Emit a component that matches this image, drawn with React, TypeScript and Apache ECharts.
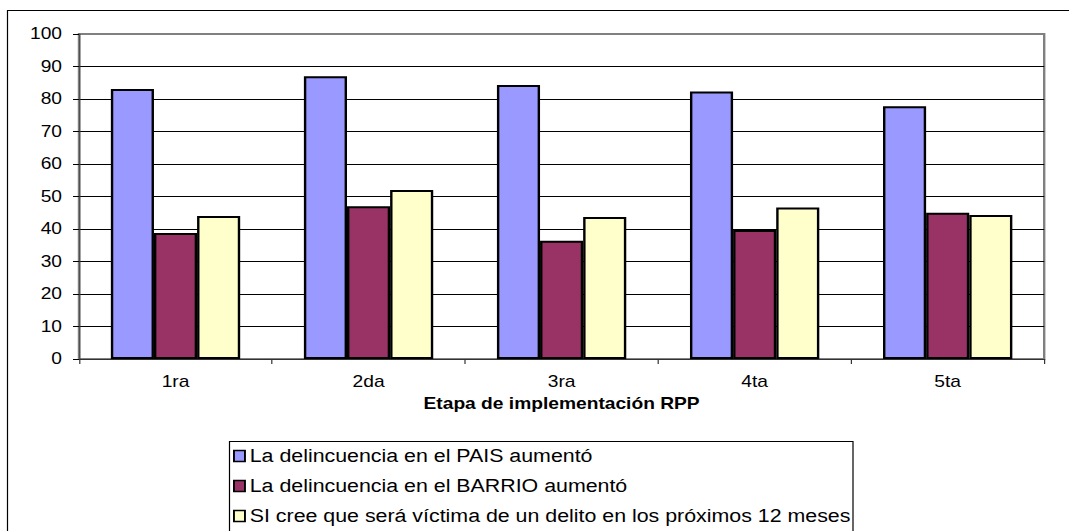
import React, { useEffect, useRef } from "react";
import * as echarts from "echarts";

const categories = ["1ra", "2da", "3ra", "4ta", "5ta"];
const seriesNames = [
  "La delincuencia en el PAIS aumentó",
  "La delincuencia en el BARRIO aumentó",
  "SI cree que será víctima de un delito en los próximos 12 meses",
];
const paisValues = [83.1, 87.0, 84.3, 82.3, 77.8];
const barrioValues = [38.8, 47.0, 36.4, 39.7, 45.0];
const victimaValues = [44.0, 52.0, 43.7, 46.6, 44.3];
const colors = ["#9999FF", "#993366", "#FFFFCC"];
const xAxisTitle = "Etapa de implementación RPP";

const FONT = "'Liberation Sans', Arial, sans-serif";
// The reference picture is stretched horizontally; render narrower and stretch.
const SX = 1.2;
const W = 1069 / SX;
const H = 531;
const px = (x: number) => x / SX;

export default function App() {
  const ref = useRef<HTMLDivElement>(null);
  useEffect(() => {
    if (!ref.current) return;
    const chart = echarts.init(ref.current, undefined, { renderer: "svg" });
    const values = [paisValues, barrioValues, victimaValues];
    const gridColors = ["#000", "#000", "#000", "#000", "#000", "#000", "#000", "#000", "#000", "#000", "#808080"];
    chart.setOption({
      animation: false,
      backgroundColor: "#fff",
      textStyle: { fontFamily: FONT },
      graphic: [
        {
          type: "rect",
          shape: { x: px(7.5), y: 10.5, width: 1200, height: 700 },
          style: { fill: "none", stroke: "#000", lineWidth: 1 },
          silent: true,
          z: -10,
        },
        {
          type: "rect",
          shape: { x: px(229.5), y: 441.5, width: px(853) - px(229.5), height: 200 },
          style: { fill: "#fff", stroke: "#000", lineWidth: 1 },
          silent: true,
          z: -5,
        },
      ],
      grid: {
        left: px(79),
        right: px(25),
        top: 34,
        bottom: 172,
        show: true,
        borderColor: "#808080",
        borderWidth: 2,
        containLabel: false,
      },
      legend: {
        orient: "vertical",
        left: px(233),
        top: 441,
        height: 200,
        padding: 0,
        itemGap: 0,
        itemWidth: px(11),
        itemHeight: 11,
        icon: "rect",
        textStyle: { fontFamily: FONT, fontSize: 17.8, color: "#000", lineHeight: 30, padding: [0, 0, 0, -1] },
        data: seriesNames.map((n, i) => ({
          name: n,
          itemStyle: { color: colors[i], borderColor: "#000", borderWidth: 1.6 },
        })),
      },
      xAxis: {
        type: "category",
        data: categories,
        axisLine: { show: true, lineStyle: { color: "#333", width: 1 } },
        axisTick: { show: true, length: 5, lineStyle: { color: "#333" } },
        axisLabel: { color: "#000", fontSize: 16, margin: 15, fontFamily: FONT },
        name: xAxisTitle,
        nameLocation: "middle",
        nameGap: 37,
        nameTextStyle: { color: "#000", fontSize: 16, fontWeight: "bold", fontFamily: FONT },
        splitLine: { show: false },
      },
      yAxis: {
        type: "value",
        min: 0,
        max: 100,
        interval: 10,
        axisLine: { show: true, lineStyle: { color: "#444", width: 1 } },
        axisTick: { show: true, length: px(6), lineStyle: { color: "#000" } },
        axisLabel: { color: "#000", fontSize: 16, margin: px(17), fontFamily: FONT },
        splitLine: { show: true, lineStyle: { color: gridColors, width: 1 } },
      },
      series: seriesNames.map((n, i) => ({
        name: n,
        type: "bar",
        data: values[i],
        barGap: "0%",
        barCategoryGap: "33%",
        itemStyle: { color: colors[i], borderColor: "#000", borderWidth: 2 },
      })),
    });
    return () => chart.dispose();
  }, []);
  return (
    <div style={{ position: "absolute", left: 0, top: 0, width: 1069, height: H, overflow: "hidden" }}>
      <div
        ref={ref}
        style={{
          width: W,
          height: H,
          transform: `scaleX(${SX})`,
          transformOrigin: "0 0",
        }}
      />
    </div>
  );
}
